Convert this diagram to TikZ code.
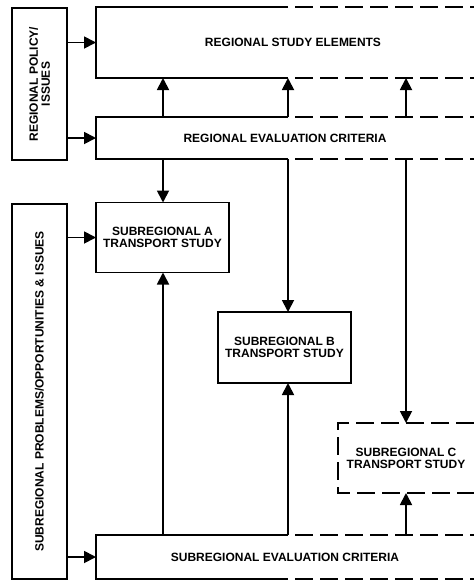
\documentclass[tikz,border=0pt]{standalone}
\usepackage{fontspec}
\setmainfont{Liberation Sans}
\usetikzlibrary{arrows.meta}

\begin{document}
\begin{tikzpicture}[
  x=1pt, y=-1pt,
  line width=1.8pt,
  txt/.style={font=\fontsize{12}{12}\selectfont\bfseries,align=center,inner sep=0pt,outer sep=0pt},
  box/.style={txt,draw,minimum width=133pt,minimum height=70pt},
  sidebox/.style={txt,draw,minimum width=55pt},
  band/.style={txt,anchor=west,minimum width=378pt},
  arr/.style={-{Triangle[length=12pt,width=12pt]}},
  gaps/.style={dash pattern=on 18pt off 7pt},
]
\useasboundingbox (0,0) rectangle (474,584);

% columns of the vertical links
\coordinate (c1) at (163,0);
\coordinate (c2) at (288,0);
\coordinate (c3) at (406,0);

\node[sidebox,minimum height=152pt] (pol) at (39.5,84)
  {\rotatebox{90}{\parbox{150pt}{\centering REGIONAL POLICY/\\ISSUES}}};
\node[sidebox,minimum height=375pt] (sub) at (39.5,391.5)
  {\rotatebox{90}{SUBREGIONAL PROBLEMS/OPPORTUNITIES \& ISSUES}};

\node[band,minimum width=394pt,minimum height=71pt] (rse) at (96,42.5) {REGIONAL STUDY ELEMENTS};
\node[band,minimum height=42pt] (rec) at (96,138) {REGIONAL EVALUATION CRITERIA};
\node[band,minimum height=44pt] (sec) at (96,557) {SUBREGIONAL EVALUATION CRITERIA};

\node[box] (suba) at (162.5,237.5) {SUBREGIONAL A\\TRANSPORT STUDY};
\node[box,minimum height=71pt] (subb) at (284.5,347.5) {SUBREGIONAL B\\TRANSPORT STUDY};
\node[txt,minimum width=136pt,minimum height=70pt] (subc) at (406,458) {SUBREGIONAL C\\TRANSPORT STUDY};

% open bands: solid on the left, dashed to the right
\draw (rse.north -| c2) -- (rse.north west) -- (rse.south west) -- (rse.south -| c2);
\draw[gaps,dash phase=18pt] (rse.north -| c2) -- (rse.north east);
\draw[gaps,dash phase=18pt] (rse.south -| c2) -- (rse.south east);
\draw (rec.north -| c2) -- (rec.north west) -- (rec.south west) -- (rec.south -| c2);
\draw[gaps,dash phase=18pt] (rec.north -| c2) -- (rec.north east);
\draw[gaps,dash phase=18pt] (rec.south -| c2) -- (rec.south east);
\draw (sec.north -| c2) -- (sec.north west) -- (sec.south west) -- (sec.south -| c2);
\draw[gaps,dash phase=18pt] (sec.north -| c2) -- (sec.north east);
\draw[gaps,dash phase=18pt] (sec.south -| c2) -- (sec.south east);
\draw[gaps] (subc.north east) -- (subc.north west) -- (subc.south west) -- (subc.south east);

\path (pol.east |- rse) edge[arr] (rse.west)
(pol.east |- rec) edge[arr] (rec.west)
(sub.east |- suba) edge[arr] (suba.west)
(sub.east |- sec) edge[arr] (sec.west)
(rec.north -| c1) edge[arr] (rse.south -| c1)
(rec.north -| c2) edge[arr] (rse.south -| c2)
(rec.north -| c3) edge[arr] (rse.south -| c3)
(rec.south -| c1) edge[arr] (suba.north -| c1)
(rec.south -| c2) edge[arr] (subb.north -| c2)
(rec.south -| c3) edge[arr] (subc.north -| c3)
(sec.north -| c1) edge[arr] (suba.south -| c1)
(sec.north -| c2) edge[arr] (subb.south -| c2)
(sec.north -| c3) edge[arr] (subc.south -| c3);
\end{tikzpicture}
\end{document}
